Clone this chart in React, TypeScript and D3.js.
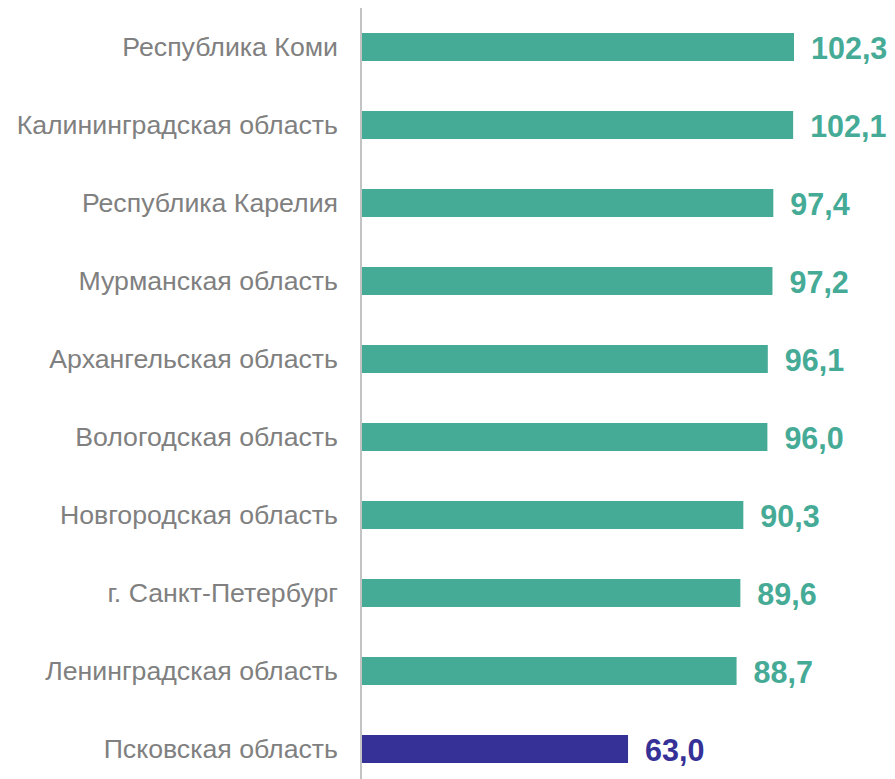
import * as d3 from "d3";
import { useEffect, useRef } from "react";

const regions = [
  "Республика Коми",
  "Калининградская область",
  "Республика Карелия",
  "Мурманская область",
  "Архангельская область",
  "Вологодская область",
  "Новгородская область",
  "г. Санкт-Петербург",
  "Ленинградская область",
  "Псковская область",
];
const values = [102.3, 102.1, 97.4, 97.2, 96.1, 96.0, 90.3, 89.6, 88.7, 63.0];
const highlight = "Псковская область";

export default function App() {
  const ref = useRef<SVGSVGElement>(null);

  useEffect(() => {
    if (!ref.current) return;
    const el = ref.current;
    d3.select(el).selectAll("*").remove();

    const W = 895;
    const H = 779;
    const teal = "#46ab96";
    const navy = "#353197";
    const grey = "#808080";
    const font = "'Liberation Sans', Arial, sans-serif";

    const svg = d3.select(el).attr("width", W).attr("height", H);

    const x = d3.scaleLinear().domain([0, 102.3]).range([362, 794]);
    const y = d3
      .scaleBand()
      .domain(regions)
      .range([8, 788])
      .paddingInner(50 / 78)
      .paddingOuter(25 / 78);

    const rows = regions.map((r, i) => ({ region: r, value: values[i] }));
    const colorOf = (r: string) => (r === highlight ? navy : teal);

    // bars
    svg
      .selectAll(".bar")
      .data(rows)
      .join("rect")
      .attr("x", x(0))
      .attr("y", d => y(d.region)!)
      .attr("width", d => x(d.value) - x(0))
      .attr("height", y.bandwidth())
      .attr("fill", d => colorOf(d.region));

    // axis line
    svg
      .append("line")
      .attr("x1", 361)
      .attr("x2", 361)
      .attr("y1", 8)
      .attr("y2", H)
      .attr("stroke", "#c3c3c3")
      .attr("stroke-width", 2);

    // category labels
    svg
      .selectAll(".cat")
      .data(rows)
      .join("text")
      .attr("x", 338)
      .attr("y", d => y(d.region)! + y.bandwidth() / 2 + 9)
      .attr("text-anchor", "end")
      .attr("fill", grey)
      .attr("font-family", font)
      .attr("font-size", 26.7)
      .text(d => d.region);

    // value labels
    svg
      .selectAll(".val")
      .data(rows)
      .join("text")
      .attr("x", d => x(d.value) + 17)
      .attr("y", d => y(d.region)! + y.bandwidth() / 2 + 11.5)
      .attr("fill", d => colorOf(d.region))
      .attr("font-family", font)
      .attr("font-size", 30.5)
      .attr("font-weight", 700)
      .text(d => d3.format(".1f")(d.value).replace(".", ","));
  }, []);

  return (
    <svg
      ref={ref}
      style={{ position: "absolute", left: 0, top: 0, display: "block", background: "#fff" }}
    />
  );
}
